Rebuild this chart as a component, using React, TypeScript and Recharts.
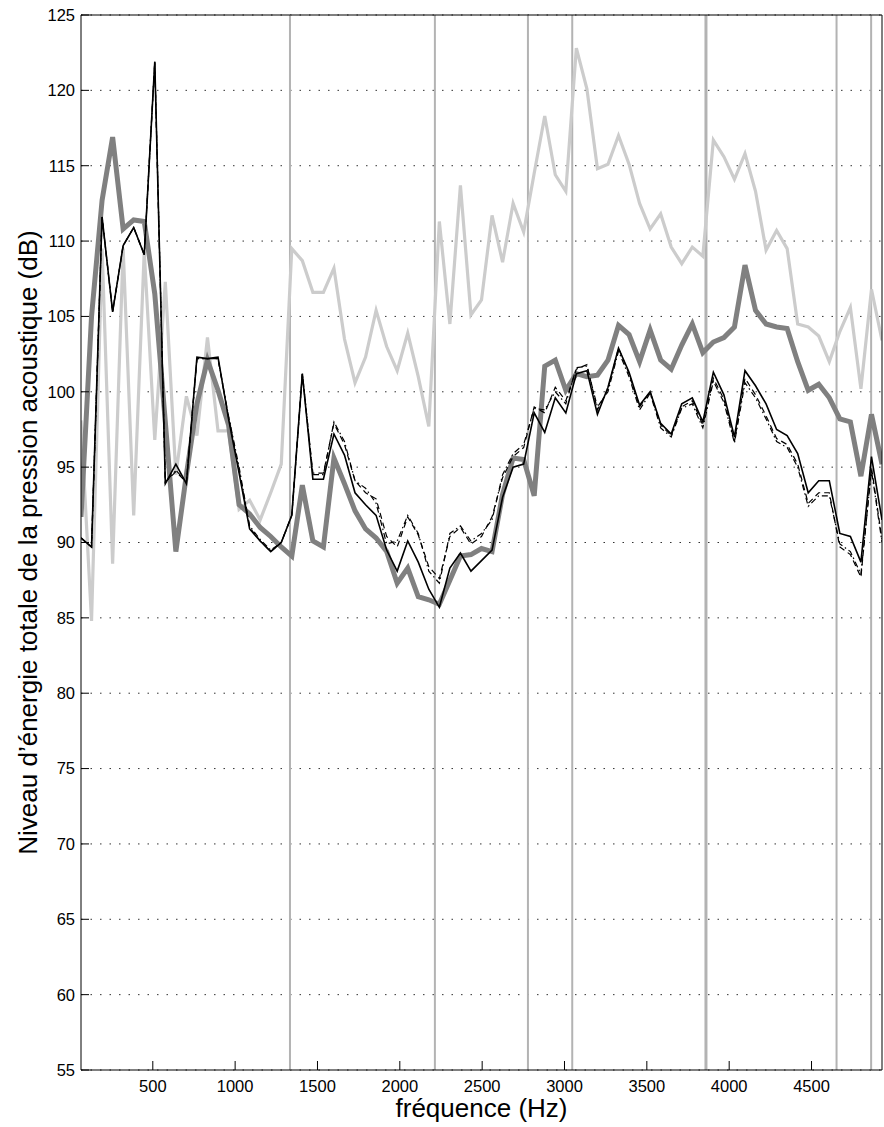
import React from 'react';
import { LineChart, Line, XAxis, YAxis, CartesianGrid, ReferenceLine, Label } from 'recharts';

// frequency bins (Hz)
const freqs = [
  64, 128, 192, 256, 320, 384, 448, 512, 576, 640,
  704, 768, 832, 896, 960, 1024, 1088, 1152, 1216, 1280,
  1344, 1408, 1472, 1536, 1600, 1664, 1728, 1792, 1856, 1920,
  1984, 2048, 2112, 2176, 2240, 2304, 2368, 2432, 2496, 2560,
  2624, 2688, 2752, 2816, 2880, 2944, 3008, 3072, 3136, 3200,
  3264, 3328, 3392, 3456, 3520, 3584, 3648, 3712, 3776, 3840,
  3904, 3968, 4032, 4096, 4160, 4224, 4288, 4352, 4416, 4480,
  4544, 4608, 4672, 4736, 4800, 4864, 4928,
];

const lightSeries = [
  98.1, 84.8, 109.5, 88.6, 109.5, 91.8, 109.3, 96.8, 107.3, 94.5,
  99.7, 97.1, 103.6, 97.4, 97.4, 92.2, 92.8, 91.5, 93.3, 95.2,
  109.5, 108.7, 106.6, 106.6, 108.2, 103.5, 100.6, 102.3, 105.4, 103.0,
  101.4, 103.9, 101.0, 97.7, 111.3, 104.5, 113.7, 105.1, 106.1, 111.7,
  108.6, 112.5, 110.6, 114.5, 118.3, 114.4, 113.3, 122.8, 120.1, 114.8,
  115.1, 117.0, 115.1, 112.5, 110.8, 111.8, 109.6, 108.5, 109.6, 109.0,
  116.7, 115.6, 114.1, 115.8, 113.3, 109.4, 110.7, 109.5, 104.5, 104.3,
  103.7, 102.0, 104.0, 105.6, 100.2, 106.8, 103.4,
];

const graySeries = [
  91.7, 105.0, 112.7, 116.9, 110.8, 111.4, 111.3, 106.5, 98.0, 89.4,
  94.5, 99.2, 102.1, 100.1, 97.8, 92.5, 91.9, 91.0, 90.4, 89.7,
  89.1, 93.8, 90.1, 89.7, 95.6, 93.9, 92.1, 90.9, 90.3, 89.4,
  87.3, 88.3, 86.4, 86.2, 85.9, 87.5, 89.1, 89.2, 89.6, 89.4,
  93.2, 95.6, 95.5, 93.1, 101.7, 102.1, 100.1, 101.2, 101.0, 101.1,
  102.1, 104.4, 103.8, 102.0, 104.1, 102.1, 101.5, 103.1, 104.5, 102.6,
  103.3, 103.6, 104.3, 108.4, 105.4, 104.5, 104.3, 104.2, 102.0, 100.1,
  100.5, 99.6, 98.2, 98.0, 94.4, 98.5, 95.2,
];

const solidSeries = [
  90.3, 89.7, 111.6, 105.3, 109.7, 110.9, 109.1, 121.9, 93.9, 95.2,
  93.9, 102.3, 102.2, 102.3, 98.2, 94.6, 90.9, 90.1, 89.4, 90.0,
  91.8, 101.2, 94.2, 94.2, 97.2, 95.8, 93.3, 92.5, 91.8, 89.5,
  88.1, 90.1, 88.7, 86.9, 85.7, 88.3, 89.3, 88.1, 88.8, 89.5,
  93.0, 95.0, 95.2, 98.6, 97.3, 99.6, 98.6, 101.2, 101.4, 98.5,
  100.3, 102.9, 101.3, 99.1, 100.0, 97.9, 97.2, 99.2, 99.6, 98.0,
  101.3, 99.8, 97.0, 101.4, 100.4, 99.2, 97.5, 97.1, 95.9, 93.3,
  94.1, 94.1, 90.6, 90.4, 88.7, 95.7, 91.5,
];

const dashSeries = [
  90.3, 89.7, 111.6, 105.3, 109.7, 110.9, 109.1, 121.9, 94.0, 94.7,
  94.0, 102.2, 102.2, 102.2, 98.3, 94.8, 91.0, 90.1, 89.4, 90.0,
  91.8, 101.2, 94.6, 94.6, 97.9, 96.5, 94.1, 93.3, 92.9, 90.4,
  89.7, 91.7, 90.5, 88.4, 87.6, 90.4, 91.0, 89.9, 90.4, 91.7,
  94.3, 95.7, 96.3, 99.0, 98.6, 100.3, 99.4, 101.5, 101.8, 98.8,
  100.2, 102.9, 101.2, 99.0, 100.0, 97.8, 97.1, 99.0, 99.4, 97.8,
  100.9, 99.5, 96.7, 100.9, 99.8, 98.4, 96.9, 96.5, 95.2, 92.6,
  93.3, 93.3, 89.7, 89.2, 87.7, 95.0, 90.2,
];

const dashDotSeries = [
  90.3, 89.7, 111.6, 105.3, 109.7, 110.9, 109.1, 121.9, 94.0, 94.8,
  94.0, 102.2, 102.2, 102.2, 98.4, 95.0, 91.1, 90.2, 89.5, 90.0,
  91.8, 101.2, 94.5, 94.5, 98.0, 96.7, 94.1, 93.6, 92.6, 89.9,
  90.1, 91.8, 90.6, 88.1, 87.3, 90.6, 91.1, 90.1, 90.6, 91.5,
  94.5, 95.9, 96.5, 98.9, 98.8, 100.0, 99.2, 101.6, 101.7, 99.0,
  100.0, 102.7, 101.0, 98.8, 99.9, 97.6, 97.0, 98.9, 99.2, 97.6,
  100.7, 99.3, 96.6, 100.6, 99.6, 98.2, 96.7, 96.3, 95.0, 92.4,
  93.1, 93.1, 89.9, 89.4, 87.9, 94.8, 90.0,
];

// vertical marker lines (Hz) and their widths
const markerFreqs = [1333, 2213, 2778, 3047, 3859, 4652, 4862];
const markerWidths = [2, 2, 2, 2, 3, 2, 2];

const xTicks = [500, 1000, 1500, 2000, 2500, 3000, 3500, 4000, 4500];
const yTicks = [55, 60, 65, 70, 75, 80, 85, 90, 95, 100, 105, 110, 115, 120, 125];

const data = freqs.map((f, i) => ({
  f,
  light: lightSeries[i],
  gray: graySeries[i],
  solid: solidSeries[i],
  dash: dashSeries[i],
  dashdot: dashDotSeries[i],
}));

const font = 'Liberation Sans, Arial, Helvetica, sans-serif';
const tickStyle = { fontSize: 16.5, fill: '#000', fontFamily: font };

export default function App() {
  return (
    <div style={{ position: 'absolute', left: 0, top: 0, width: 884, height: 1127, background: '#fff' }}>
      <LineChart width={884} height={1127} data={data} margin={{ top: 14, right: 1, bottom: 0, left: 0 }}>
        <CartesianGrid vertical={false} stroke="#333" strokeDasharray="1.5 8" />
        <XAxis
          type="number"
          dataKey="f"
          domain={[64, 4928]}
          allowDataOverflow
          ticks={xTicks}
          height={57}
          tick={tickStyle}
          tickSize={-9}
          tickMargin={19}
          stroke="#000"
        >
          <Label value="fréquence (Hz)" position="insideBottom" offset={10}
            style={{ fontSize: 26, fill: '#000', fontFamily: font }} />
        </XAxis>
        <XAxis
          xAxisId="top"
          orientation="top"
          type="number"
          domain={[64, 4928]}
          allowDataOverflow
          ticks={xTicks}
          height={1}
          tick={false}
          tickSize={-9}
          stroke="#000"
        />
        <YAxis
          type="number"
          domain={[55, 125]}
          ticks={yTicks}
          width={81}
          tick={tickStyle}
          tickSize={-8}
          tickMargin={14}
          stroke="#000"
        >
          <Label value="Niveau d’énergie totale de la pression acoustique (dB)" angle={-90}
            position="insideLeft" offset={28}
            style={{ fontSize: 26, fill: '#000', fontFamily: font, textAnchor: 'middle' }} />
        </YAxis>
        <YAxis
          yAxisId="right"
          orientation="right"
          type="number"
          domain={[55, 125]}
          ticks={yTicks}
          width={1}
          tick={false}
          tickSize={-8}
          stroke="#000"
        />
        {markerFreqs.map((f, i) => (
          <ReferenceLine key={f} x={f} stroke="#b3b3b3" strokeWidth={markerWidths[i]} />
        ))}
        <Line dataKey="light" stroke="#cccccc" strokeWidth={3.2} dot={false} isAnimationActive={false} />
        <Line dataKey="gray" stroke="#808080" strokeWidth={5} dot={false} isAnimationActive={false} />
        <Line dataKey="solid" stroke="#000" strokeWidth={1.6} dot={false} isAnimationActive={false} />
        <Line dataKey="dash" stroke="#000" strokeWidth={1.2} strokeDasharray="6 4" dot={false} isAnimationActive={false} />
        <Line dataKey="dashdot" stroke="#000" strokeWidth={1.2} strokeDasharray="6 3 1.5 3" dot={false} isAnimationActive={false} />
      </LineChart>
    </div>
  );
}
